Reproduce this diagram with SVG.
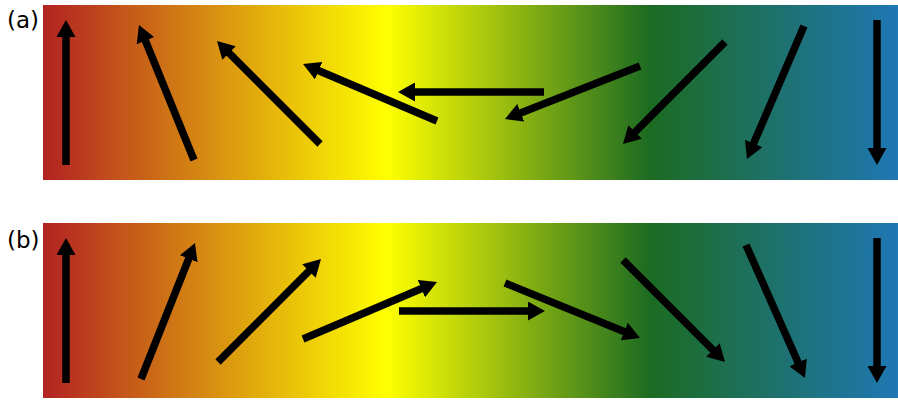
<svg xmlns="http://www.w3.org/2000/svg" width="898" height="400" viewBox="0 0 898 400">
  <defs>
    <linearGradient id="spectrum" x1="43" y1="0" x2="898" y2="0" gradientUnits="userSpaceOnUse">
      <stop offset="0" stop-color="#b22222"/>
      <stop offset="0.402" stop-color="#ffff00"/>
      <stop offset="0.71" stop-color="#1c6b22"/>
      <stop offset="1" stop-color="#1f77b4"/>
    </linearGradient>
    <marker id="head" markerUnits="userSpaceOnUse" viewBox="0 0 17 19" markerWidth="17" markerHeight="19" refX="3" refY="9.5" orient="auto">
      <path d="M0,0 L17,9.5 L0,19 z" fill="#000"/>
    </marker>
    <style>
      .bar { fill: url(#spectrum); }
      .arrow { stroke: #000; stroke-width: 7.5; fill: none; marker-end: url(#head); }
      .label { font-family: "DejaVu Sans", sans-serif; font-size: 23px; fill: #000; }
    </style>
  </defs>

  <g id="panel-a">
    <rect class="bar" x="43" y="5" width="855" height="175"/>
    <text class="label" x="7" y="27.5">(a)</text>
  </g>
  <g id="panel-b">
    <rect class="bar" x="43" y="223" width="855" height="175"/>
    <text class="label" x="7" y="248">(b)</text>
  </g>

  <g id="connectors">
    <!-- row a -->
    <line class="arrow" x1="66" y1="165" x2="66" y2="34"/>
    <line class="arrow" x1="194" y1="160" x2="144.3" y2="38"/>
    <line class="arrow" x1="320" y1="144" x2="226.9" y2="50.9"/>
    <line class="arrow" x1="437" y1="121" x2="315.9" y2="69.5"/>
    <line class="arrow" x1="544" y1="92" x2="412" y2="92"/>
    <line class="arrow" x1="640" y1="66" x2="518" y2="113.9"/>
    <line class="arrow" x1="725" y1="42" x2="632.9" y2="134.1"/>
    <line class="arrow" x1="804" y1="26" x2="752.5" y2="146.1"/>
    <line class="arrow" x1="877" y1="20" x2="877" y2="151"/>
    <!-- row b -->
    <line class="arrow" x1="66" y1="383" x2="66" y2="252"/>
    <line class="arrow" x1="141" y1="379" x2="189.8" y2="256"/>
    <line class="arrow" x1="218" y1="362" x2="311.1" y2="268.9"/>
    <line class="arrow" x1="303" y1="339" x2="424.1" y2="287.5"/>
    <line class="arrow" x1="399" y1="311" x2="531" y2="311"/>
    <line class="arrow" x1="505" y1="283" x2="627" y2="332.7"/>
    <line class="arrow" x1="623" y1="260" x2="715.1" y2="352.1"/>
    <line class="arrow" x1="746" y1="245" x2="799.3" y2="365.2"/>
    <line class="arrow" x1="877" y1="238" x2="877" y2="369"/>
  </g>
</svg>
